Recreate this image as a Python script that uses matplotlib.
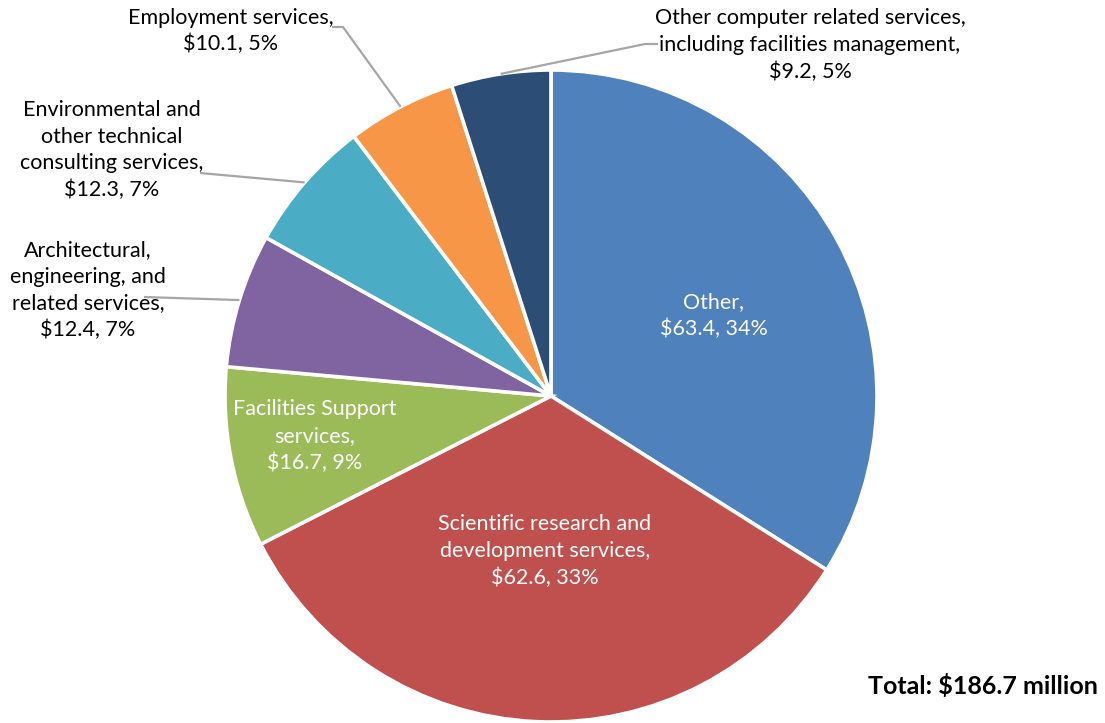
import numpy as np
import matplotlib.pyplot as plt

plt.rcParams['font.family'] = ['Lato', 'DejaVu Sans']

# _____DATA____

categories = ['Other',
              'Scientific research and\ndevelopment services',
              'Facilities Support\nservices',
              'Architectural,\nengineering, and\nrelated services',
              'Environmental and\nother technical\nconsulting services',
              'Employment services',
              'Other computer related services,\nincluding facilities management']
values = [63.4, 62.6, 16.7, 12.4, 12.3, 10.1, 9.2]
percents = [34, 33, 9, 7, 7, 5, 5]
colors = ['#4F81BD', '#C0504D', '#9BBB59', '#8064A2', '#4BACC6', '#F79646', '#2C4D75']
total_text = 'Total: $186.7 million'

W, H = 1105, 723


def py(y):
    # convert a pixel row (top origin) into axes data y
    return H - y


# label placement: (center x, center y, inside?, leader end point or None, elbow or None)
placements = [
    (714, 316, True, None, None),
    (545, 551, True, None, None),
    (315, 436, True, None, None),
    (88, 290, False, (144, 297), None),
    (112, 150, False, (200, 173), None),
    (231, 31, False, (332, 27), (343, 27)),
    (810, 45, False, (658, 44), (645, 44)),
]

# create figure
fig = plt.figure(figsize=(W / 100, H / 100), dpi=100)
ax = fig.add_axes([0, 0, 1, 1])

cx, cy, radius = 551, py(396), 326
wedges, _ = ax.pie(values, colors=colors, startangle=90, counterclock=False,
                   center=(cx, cy), radius=radius,
                   wedgeprops=dict(edgecolor='white', linewidth=2.6))

ax.set_xlim(0, W)
ax.set_ylim(0, H)
ax.set_aspect('equal')
ax.axis('off')

for wedge, name, val, pct, place in zip(wedges, categories, values, percents, placements):
    tx, ty, inside, end, elbow = place
    label = '{},\n${}, {}%'.format(name, val, pct)
    ax.text(tx, py(ty), label, ha='center', va='center', fontsize=15.5,
            color='white' if inside else 'black', linespacing=1.4)
    if end is None:
        continue
    # leader line from the outer edge of the wedge to the label
    mid = np.deg2rad((wedge.theta1 + wedge.theta2) / 2)
    ex, ey = cx + radius * np.cos(mid), cy + radius * np.sin(mid)
    xs, ys = [ex], [ey]
    if elbow is not None:
        xs.append(elbow[0])
        ys.append(py(elbow[1]))
    xs.append(end[0])
    ys.append(py(end[1]))
    ax.plot(xs, ys, color='#A6A6A6', linewidth=1.6, solid_capstyle='butt')

ax.text(1098, py(686), total_text, ha='right', va='center', fontsize=18,
        fontweight='bold')

plt.savefig('out.png', dpi=100)
plt.close('all')
